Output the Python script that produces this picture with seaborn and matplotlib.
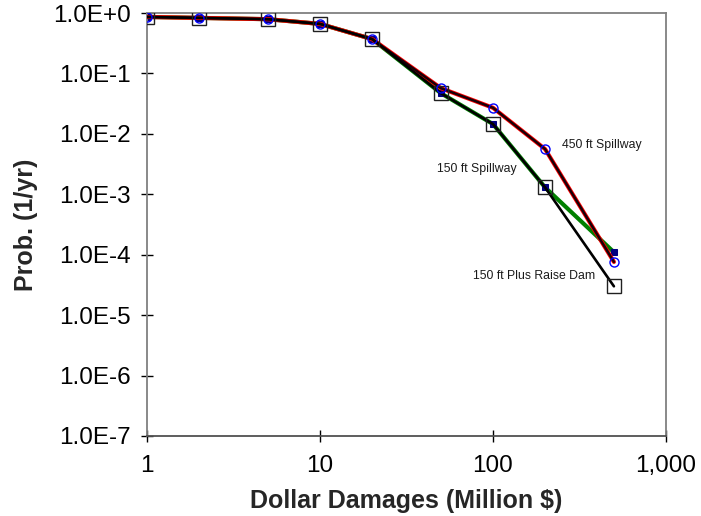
import matplotlib
matplotlib.use("Agg")
import matplotlib.pyplot as plt
import seaborn as sns
import pandas as pd
import numpy as np
from matplotlib.ticker import FixedLocator, FixedFormatter, NullLocator

sns.set_style("white")
plt.rcParams['font.family'] = ['Liberation Sans', 'DejaVu Sans']

damages = [1, 2, 5, 10, 20, 50, 100, 200, 500]
prob_450 = [0.86, 0.83, 0.79, 0.66, 0.37, 0.057, 0.027, 0.0056, 7.6e-5]
prob_150 = [0.86, 0.83, 0.79, 0.66, 0.37, 0.047, 0.0145, 0.0013, 1.1e-4]
prob_150_raise = [0.86, 0.83, 0.79, 0.66, 0.37, 0.047, 0.0145, 0.0013, 3.0e-5]

x_ticks = [1, 10, 100, 1000]
x_tick_labels = ["1", "10", "100", "1,000"]
y_ticks = [1e0, 1e-1, 1e-2, 1e-3, 1e-4, 1e-5, 1e-6, 1e-7]
y_tick_labels = ["1.0E+0", "1.0E-1", "1.0E-2", "1.0E-3", "1.0E-4", "1.0E-5", "1.0E-6", "1.0E-7"]

labels = ["450 ft Spillway", "150 ft Spillway", "150 ft Plus Raise Dam"]
label_pos = [(250, 6.5e-3), (47.5, 2.6e-3), (76.6, 4.4e-5)]

df450 = pd.DataFrame({"x": damages, "y": prob_450})
df150 = pd.DataFrame({"x": damages, "y": prob_150})
dfraise = pd.DataFrame({"x": damages, "y": prob_150_raise})

fig = plt.figure(figsize=(7.01, 5.16), dpi=100)
ax = fig.add_axes([147/701, 1-436/516, (666-147)/701, (436-13)/516])
ax.set_xscale("log")
ax.set_yscale("log")

# 150 ft Spillway: green line, small filled navy squares
sns.lineplot(data=df150, x="x", y="y", ax=ax, color="#008000", linewidth=3.0,
             marker="s", markersize=4, markerfacecolor="#000080",
             markeredgecolor="#000080", zorder=2)
# 450 ft Spillway: red line with dark overlay
sns.lineplot(data=df450, x="x", y="y", ax=ax, color="#ff0000", linewidth=3.0, zorder=3)
sns.lineplot(data=df450, x="x", y="y", ax=ax, color="#1a0008", linewidth=1.8, zorder=4)
# 150 ft Plus Raise Dam: black line, open squares
sns.lineplot(data=dfraise, x="x", y="y", ax=ax, color="black", linewidth=1.9,
             marker="s", markersize=10, markerfacecolor="none",
             markeredgecolor="#202020", markeredgewidth=1.0, zorder=5)
# circles for 450
sns.lineplot(data=df450, x="x", y="y", ax=ax, linestyle="none", marker="o",
             markersize=6.5, markerfacecolor="none", markeredgecolor="#0000ff",
             markeredgewidth=1.0, zorder=6)

ax.set_xlim(1, 1000)
ax.set_ylim(1e-7, 1e0)
ax.xaxis.set_major_locator(FixedLocator(x_ticks))
ax.xaxis.set_major_formatter(FixedFormatter(x_tick_labels))
ax.xaxis.set_minor_locator(NullLocator())
ax.yaxis.set_major_locator(FixedLocator(y_ticks))
ax.yaxis.set_major_formatter(FixedFormatter(y_tick_labels))
ax.yaxis.set_minor_locator(NullLocator())

ax.tick_params(axis="both", which="major", direction="inout", length=9, width=1,
               color="black", labelsize=17.5, labelcolor="black", pad=7)
ax.tick_params(axis="x", bottom=True, pad=9)
ax.tick_params(axis="y", left=True)

for s in ["top", "right", "left"]:
    ax.spines[s].set_color("#808080")
    ax.spines[s].set_linewidth(1.3)
ax.spines["bottom"].set_color("#505050")
ax.spines["bottom"].set_linewidth(1.3)

ax.set_xlabel("Dollar Damages (Million $)", fontsize=18, fontweight="bold", labelpad=9)
ax.set_ylabel("Prob. (1/yr)", fontsize=18, fontweight="bold", labelpad=11)
ax.grid(False)

for lab, (lx, ly) in zip(labels, label_pos):
    ax.text(lx, ly, lab, fontsize=8.8, ha="left", va="center", color="#1a1a1a", zorder=7)

fig.savefig("out.png", dpi=100)
